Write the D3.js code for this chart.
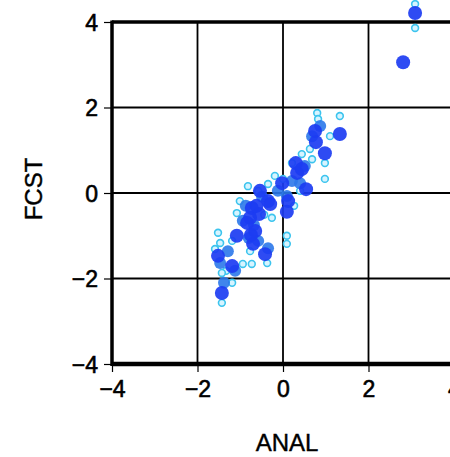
<!DOCTYPE html>
<html>
<head>
<meta charset="utf-8">
<script src="https://cdn.jsdelivr.net/npm/d3@7"></script>
<style>
  body { margin: 0; background: #fff; }
  text { font-family: "Liberation Sans", Arial, sans-serif; fill: #000; }
</style>
</head>
<body>
<svg width="450" height="457"></svg>
<script>
// tick values
const ticks = [-4, -2, 0, 2, 4];

// large dark points (ANAL, FCST)
const darkX = [3.09, 2.81, 1.33, 0.75, 0.77, 0.98, 0.33, 0.44, 0.54, -0.02, 0.12, 0.09, -0.30, -0.35, -0.73, -0.77, -0.65, -0.70, -0.42, -1.08, -1.52, -1.19, -1.43, -0.84, -0.56, -0.54, 0.30, -0.75, -0.62];
const darkY = [4.21, 3.06, 1.38, 1.45, 1.19, 0.93, 0.47, 0.56, 0.09, 0.23, -0.19, -0.44, -0.26, -0.19, -0.35, -0.58, -0.89, -1.19, -1.43, -1.00, -1.47, -1.71, -2.34, -0.70, -0.49, 0.05, 0.70, -0.98, -0.30];

// medium blue points
const midX = [0.87, 0.68, 0.51, 0.21, -0.12, -0.49, -0.87, -0.94, -0.58, -1.29, -1.47, -1.12, -1.38, -0.35, 0.09, 0.40, -0.68, -0.80];
const midY = [1.57, 1.33, 0.63, 0.28, 0.05, -0.09, -0.30, -0.65, -1.12, -1.36, -1.64, -1.82, -2.10, -1.29, -0.07, 0.23, -0.75, -1.05];

// small light open points
const lightX = [1.33, 0.80, 0.98, 0.98, 0.44, -0.82, -1.08, -1.52, -1.47, -0.26, 0.09, 0.09, -0.73, -0.37, -1.43, -1.19, 3.09, 3.09, 0.82, 0.63, 0.21, -0.35, -0.58, -1.01, 0.00, -0.44, -1.59, -1.33, -0.94, -0.77, 0.26, 0.40, -0.19, 0.68, 1.10, -1.43, -1.19];
const lightY = [1.80, 1.87, 0.70, 0.33, 0.91, 0.16, -0.47, -0.93, -1.17, -0.58, -1.00, -1.19, -1.66, -1.64, -2.57, -2.10, 4.42, 3.86, 1.73, 1.03, 0.70, 0.21, 0.05, -0.19, 0.33, -0.51, -1.31, -1.82, -1.66, -1.36, -0.30, 0.05, 0.40, 0.79, 1.33, -1.87, -1.12];

const svg = d3.select("svg");

const x = d3.scaleLinear().domain([-4, 4]).range([112, 454]);
const y = d3.scaleLinear().domain([-4, 4]).range([364, 22]);

// grid lines
const grid = svg.append("g");
grid.selectAll("line.gx")
    .data(ticks.slice(1))
    .enter().append("line")
    .attr("x1", d => x(d)).attr("x2", d => x(d))
    .attr("y1", y(4)).attr("y2", y(-4))
    .attr("stroke", "#000").attr("stroke-width", 1.8);
grid.selectAll("line.gy")
    .data(ticks.slice(1, 4))
    .enter().append("line")
    .attr("x1", x(-4)).attr("x2", 450)
    .attr("y1", d => y(d)).attr("y2", d => y(d))
    .attr("stroke", "#000").attr("stroke-width", 1.8);

// frame
svg.append("line").attr("x1", x(-4)).attr("x2", 450).attr("y1", y(4)).attr("y2", y(4))
    .attr("stroke", "#000").attr("stroke-width", 3.5);
svg.append("line").attr("x1", x(-4)).attr("x2", 450).attr("y1", y(-4)).attr("y2", y(-4))
    .attr("stroke", "#000").attr("stroke-width", 4.5);
svg.append("line").attr("x1", x(-4)).attr("x2", x(-4)).attr("y1", y(4) - 1.5).attr("y2", y(-4) + 2)
    .attr("stroke", "#000").attr("stroke-width", 3.5);

// axes
const fmt = d => d < 0 ? "\u2212" + Math.abs(d) : d;
const xAxis = svg.append("g")
    .attr("transform", `translate(0,${y(-4)})`)
    .call(d3.axisBottom(x).tickValues(ticks).tickSize(8).tickPadding(9).tickFormat(fmt));
const yAxis = svg.append("g")
    .attr("transform", `translate(${x(-4)},0)`)
    .call(d3.axisLeft(y).tickValues(ticks).tickSize(8).tickPadding(6).tickFormat(fmt));
[xAxis, yAxis].forEach(a => {
    a.select(".domain").remove();
    a.selectAll(".tick line").attr("stroke", "#000").attr("stroke-width", 1.2);
    a.selectAll(".tick text").style("font-size", "23px").attr("fill", "#000")
        .attr("stroke", "#000").attr("stroke-width", 0.6);
});
yAxis.selectAll(".tick text").attr("dy", "0.36em");

// axis titles
svg.append("text")
    .attr("x", 287).attr("y", 451)
    .attr("text-anchor", "middle")
    .style("font-size", "24px")
    .attr("stroke", "#000").attr("stroke-width", 0.4)
    .text("ANAL");
svg.append("text")
    .attr("transform", "translate(42,189) rotate(-90)")
    .attr("text-anchor", "middle")
    .style("font-size", "24px")
    .attr("stroke", "#000").attr("stroke-width", 0.4)
    .text("FCST");

// points
const pts = svg.append("g");
pts.selectAll("circle.light")
    .data(d3.zip(lightX, lightY))
    .enter().append("circle")
    .attr("cx", d => x(d[0])).attr("cy", d => y(d[1]))
    .attr("r", 3.4)
    .attr("fill", "#d6f4ff")
    .attr("stroke", "#3cc4ee").attr("stroke-width", 1.6);
pts.selectAll("circle.mid")
    .data(d3.zip(midX, midY))
    .enter().append("circle")
    .attr("cx", d => x(d[0])).attr("cy", d => y(d[1]))
    .attr("r", 6)
    .attr("fill", "#2b78ea").attr("fill-opacity", 0.9);
pts.selectAll("circle.dark")
    .data(d3.zip(darkX, darkY))
    .enter().append("circle")
    .attr("cx", d => x(d[0])).attr("cy", d => y(d[1]))
    .attr("r", 7)
    .attr("fill", "#1c3cf2").attr("fill-opacity", 0.92);
</script>
</body>
</html>
